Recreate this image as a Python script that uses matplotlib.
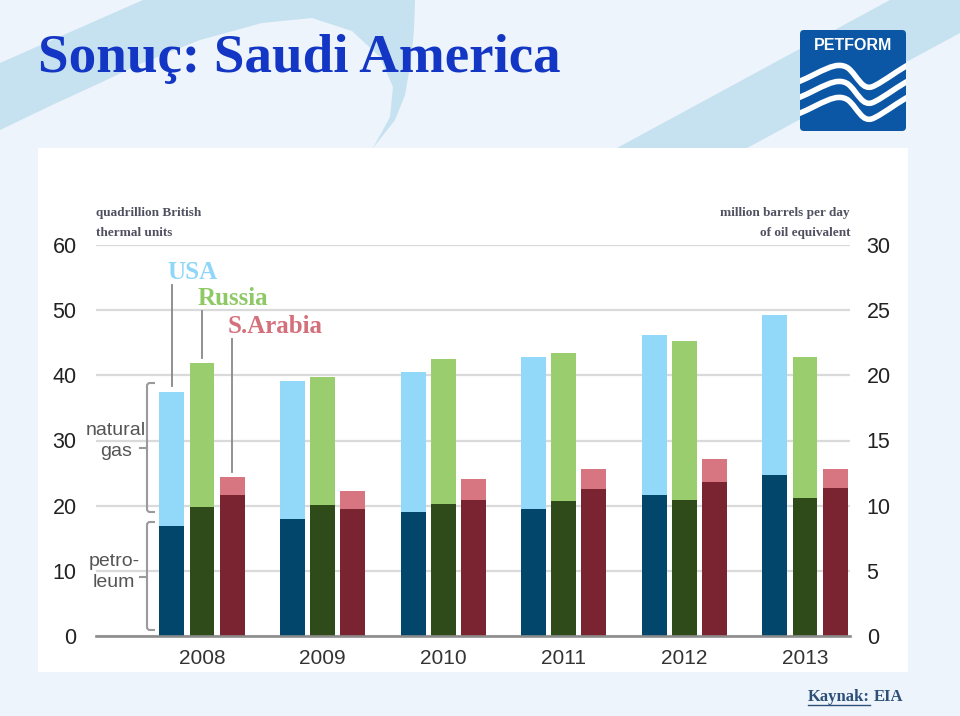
import matplotlib
matplotlib.use("Agg")
import matplotlib.pyplot as plt
import numpy as np
from matplotlib.path import Path
from matplotlib.patches import PathPatch, Rectangle, FancyBboxPatch, Polygon

# ---------------- data ----------------
years = ['2008', '2009', '2010', '2011', '2012', '2013']
usa_petroleum = [16.9, 17.9, 19.0, 19.5, 21.7, 24.7]
usa_gas = [20.6, 21.2, 21.5, 23.3, 24.5, 24.5]
russia_petroleum = [19.8, 20.1, 20.3, 20.7, 20.9, 21.2]
russia_gas = [22.1, 19.7, 22.2, 22.8, 24.4, 21.6]
saudi_petroleum = [21.7, 19.5, 20.9, 22.5, 23.6, 22.7]
saudi_gas = [2.7, 2.7, 3.2, 3.2, 3.5, 3.0]
left_ticks = [0, 10, 20, 30, 40, 50, 60]
right_ticks = [0, 5, 10, 15, 20, 25, 30]

W, H = 960, 716
fig = plt.figure(figsize=(W / 100, H / 100), dpi=100)
fig.patch.set_facecolor('#edf4fb')

# background axes in pixel coords
bg = fig.add_axes([0, 0, 1, 1])
bg.set_xlim(0, W)
bg.set_ylim(H, 0)
bg.axis('off')
bg.set_zorder(0)

band = '#c6e1f0'
# left crescent band
outer = [(0, 63), (143, 0), (415, 0), (414, 30), (411, 60), (405, 95), (395, 120), (373, 148)]
inner = [(390, 117), (393, 87), (380, 57), (352, 31), (312, 18), (262, 23), (200, 40),
         (140, 64), (100, 83), (50, 106), (0, 130)]
bg.add_patch(Polygon(outer + inner, closed=True, facecolor=band, edgecolor='none', zorder=1))
# right diagonal band
bg.add_patch(Polygon([(617, 148), (890, 0), (960, 0), (960, 33), (747, 148)],
                     closed=True, facecolor=band, edgecolor='none', zorder=1))
# white chart panel
bg.add_patch(Rectangle((38, 148), 870, 524, facecolor='white', edgecolor='none', zorder=2))

# title
title = bg.text(38, 72, 'Sonuç: Saudi America', fontsize=40, fontweight='bold',
                family='Liberation Serif', color='#1336c4', ha='left', va='baseline', zorder=5)
fig.canvas.draw()
r = fig.canvas.get_renderer()
bb = title.get_window_extent(r)
title.set_fontsize(40 * 522 / bb.width)

# logo
logo = FancyBboxPatch((800, 30), 106, 101, boxstyle='round,pad=0,rounding_size=4',
                      facecolor='#0b57a5', edgecolor='none', zorder=5)
bg.add_patch(logo)
bg.text(853, 45, 'PETFORM', color='white', fontsize=11.5, fontweight='bold',
        family=['Liberation Sans Narrow', 'Liberation Sans'], ha='center', va='center', zorder=6)
for y0 in [82, 98, 114]:
    p = Path([(798, y0), (822, y0 - 10), (836, y0 - 22), (848, y0 - 14),
              (858, y0 - 6), (862, y0 + 10), (874, y0 + 4),
              (886, y0 - 2), (898, y0 - 12), (910, y0 - 18)],
             [Path.MOVETO, Path.CURVE4, Path.CURVE4, Path.CURVE4,
              Path.CURVE4, Path.CURVE4, Path.CURVE4,
              Path.CURVE4, Path.CURVE4, Path.CURVE4])
    pp = PathPatch(p, facecolor='none', edgecolor='white', lw=4.0, zorder=6, capstyle='butt')
    pp.set_clip_path(logo)
    bg.add_patch(pp)

# source
k = bg.text(808, 697, 'Kaynak:', fontsize=12, fontweight='bold', family='Liberation Serif',
            color='#2d5078', ha='left', va='center', zorder=5)
fig.canvas.draw()
kb = k.get_window_extent(r)
bg.text(808 + kb.width + 4, 697, 'EIA', fontsize=12, fontweight='bold', family='Liberation Serif',
        color='#2d5078', ha='left', va='center', zorder=5)
bg.plot([808, 808 + kb.width], [705, 705], color='#2d5078', lw=1, zorder=5)

# ---------------- chart ----------------
ax_l, ax_r, ax_b, ax_t = 96, 850, 636, 245
ax = fig.add_axes([ax_l / W, 1 - ax_b / H, (ax_r - ax_l) / W, (ax_b - ax_t) / H])
ax.set_zorder(3)
ax.patch.set_alpha(0)
x = np.arange(len(years))
x0_px, step_px = 202, 120.6
ax.set_xlim((ax_l - x0_px) / step_px, (ax_r - x0_px) / step_px)
ax.set_ylim(0, 60)

bw, off = 0.207, 0.249
series = [
    (usa_petroleum, usa_gas, '#02476b', '#92d8f9', -off),
    (russia_petroleum, russia_gas, '#2f4b19', '#9acd6e', 0),
    (saudi_petroleum, saudi_gas, '#7b2431', '#d77680', off),
]
for pet, gas, dark, light, o in series:
    ax.bar(x + o, pet, bw, color=dark, zorder=3)
    ax.bar(x + o, gas, bw, bottom=pet, color=light, zorder=3)

ax.set_yticks(left_ticks)
ax.yaxis.grid(True, color='#dadada', lw=1.6, zorder=0)
ax.set_axisbelow(True)
for s in ['top', 'right', 'left']:
    ax.spines[s].set_visible(False)
ax.spines['bottom'].set_color('#8c8c8c')
ax.spines['bottom'].set_linewidth(1.9)
ax.spines['bottom'].set_zorder(4)
tickfont = ['Liberation Sans Narrow', 'Liberation Sans']
ax.tick_params(axis='y', length=0, pad=14, labelsize=15.5, labelcolor='#222222')
ax.tick_params(axis='x', length=0, pad=9, labelsize=15, labelcolor='#333333')
ax.set_xticks(x)
ax.set_xticklabels(years)
for lab in ax.get_xticklabels() + ax.get_yticklabels():
    lab.set_family(tickfont)

ax2 = ax.twinx()
ax2.set_ylim(0, 30)
ax2.set_yticks(right_ticks)
for s in ['top', 'right', 'left', 'bottom']:
    ax2.spines[s].set_visible(False)
ax2.tick_params(axis='y', length=0, pad=12, labelsize=15.5, labelcolor='#222222')
for lab in ax2.get_yticklabels():
    lab.set_family(tickfont)

# unit labels
ax.text(0, 1.057, 'quadrillion British\nthermal units', transform=ax.transAxes, ha='left', va='center',
        fontsize=9.5, fontweight='bold', family='Liberation Serif', color='#505060', linespacing=1.85)
ax.text(1, 1.057, 'million barrels per day\nof oil equivalent', transform=ax.transAxes, ha='right',
        va='center', fontsize=9.5, fontweight='bold', family='Liberation Serif', color='#505060',
        multialignment='right', linespacing=1.85)

# series labels with leader lines
labs = [('USA', '#8fd6f8', -off, 55.8, usa_petroleum[0] + usa_gas[0]),
        ('Russia', '#8fc965', 0, 51.8, russia_petroleum[0] + russia_gas[0]),
        ('S.Arabia', '#d4707b', off, 47.5, saudi_petroleum[0] + saudi_gas[0])]
for name, col, o, ly, top in labs:
    ax.text(o - 0.04, ly, name, color=col, fontsize=18, fontweight='bold', family='Liberation Serif',
            ha='left', va='center', zorder=6)
    ax.plot([o, o], [ly - 2.0, top + 0.8], color='#888888', lw=1.3, zorder=5, clip_on=False)

# brackets
def bracket(y0, y1, ym):
    xv, xe, xt = 147, 155, 140
    rr = 3
    verts = [(xe, y0), (xv + rr, y0), (xv, y0), (xv, y0 + rr), (xv, y1 - rr), (xv, y1), (xv + rr, y1), (xe, y1)]
    codes = [Path.MOVETO, Path.LINETO, Path.CURVE3, Path.CURVE3, Path.LINETO, Path.CURVE3, Path.CURVE3, Path.LINETO]
    ax.add_patch(PathPatch(Path(verts, codes), transform=bg.transData, facecolor='none',
                           edgecolor='#9a9a9a', lw=1.5, clip_on=False, zorder=5))
    ax.plot([xt, xv], [ym, ym], transform=bg.transData, color='#9a9a9a', lw=1.5, clip_on=False, zorder=5)

bracket(383, 512, 448)
bracket(522, 630, 577)
ax.text(116, 441, 'natural\ngas', transform=bg.transData, ha='center', va='center', fontsize=14,
        family=tickfont, color='#555555', linespacing=1.3)
ax.text(114, 572, 'petro-\nleum', transform=bg.transData, ha='center', va='center', fontsize=14,
        family=tickfont, color='#555555', linespacing=1.3)

fig.savefig('out.png', dpi=100, facecolor=fig.get_facecolor())
